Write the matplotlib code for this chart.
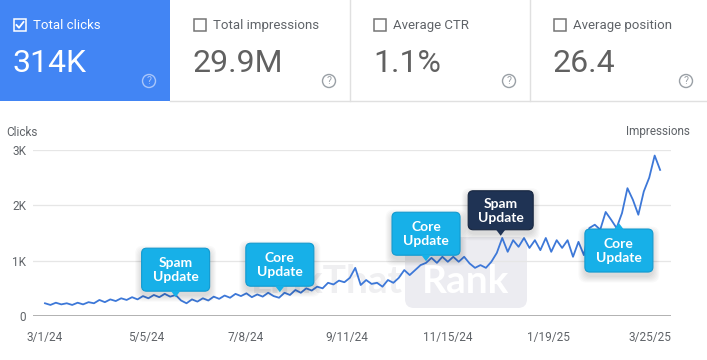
import numpy as np
import pandas as pd
import matplotlib
matplotlib.use("Agg")
import matplotlib.pyplot as plt
import matplotlib.dates as mdates
from matplotlib.patches import FancyBboxPatch, Polygon, Rectangle, Circle

plt.rcParams['font.family'] = ['Roboto', 'DejaVu Sans']

# metric cards
card_titles = ["Total clicks", "Total impressions", "Average CTR", "Average position"]
card_values = ["314K", "29.9M", "1.1%", "26.4"]

# clicks, one value every half week from 3/1/24
clicks = [
    230, 200, 240, 210, 230, 200, 240, 210, 250, 230,
    290, 250, 300, 270, 320, 290, 340, 300, 360, 320,
    380, 340, 400, 350, 380, 280, 230, 300, 260, 320,
    280, 350, 310, 370, 330, 400, 360, 410, 340, 390,
    350, 420, 360, 330, 420, 380, 470, 420, 500, 460,
    530, 500, 600, 570, 640, 610, 690, 870, 560, 650,
    580, 600, 530, 650, 600, 690, 830, 740, 830, 920,
    960, 1050, 960, 1070, 980, 1070, 980, 1070, 950, 870,
    920, 870, 980, 1140, 1410, 1160, 1370, 1250, 1410, 1230,
    1370, 1190, 1410, 1160, 1370, 1230, 1370, 1070, 1340, 1100,
    1590, 1650, 1560, 1880, 1740, 1590, 1860, 2310, 2100, 1830,
    2250, 2500, 2900, 2640,
]
dates = pd.date_range("2024-03-01", periods=len(clicks), freq="84h")

x_labels = ["3/1/24", "5/5/24", "7/8/24", "9/11/24", "11/15/24", "1/19/25", "3/25/25"]
y_ticks = [0, 1000, 2000, 3000]
y_labels = ["0", "1K", "2K", "3K"]

# algorithm update callouts
note_labels = ["Spam\nUpdate", "Core\nUpdate", "Core\nUpdate", "Spam\nUpdate", "Core\nUpdate"]
note_dates = ["2024-05-24", "2024-07-30", "2024-11-01", "2024-12-19", "2025-03-05"]
note_values = [340, 430, 990, 1450, 1680]
note_dark = [False, False, False, True, False]
note_up = [False, False, False, False, True]

GRAY = '#5f6368'

fig = plt.figure(figsize=(7.07, 3.6), dpi=100)
bg = fig.add_axes([0, 0, 1, 1])
bg.set_xlim(0, 707)
bg.set_ylim(360, 0)
bg.axis('off')

# ---- cards ----
card_x = [0, 170, 350, 530]
card_w = [170, 180, 180, 177]
bg.add_patch(Rectangle((0, 0), 170, 101, color='#4285f4', lw=0))
bg.plot([170, 707], [101, 101], color='#e0e0e0', lw=1)
for sx in [349.5, 529.5]:
    bg.plot([sx, sx], [0, 101], color='#e0e0e0', lw=1)

for i in range(4):
    x0 = card_x[i] + 14 if i == 0 else card_x[i] + 24
    active = i == 0
    fg = 'white' if active else GRAY
    bg.add_patch(Rectangle((x0, 19), 12, 12, fill=False,
                           ec='white' if active else '#757575', lw=1.1))
    if active:
        bg.plot([x0 + 2.5, x0 + 5, x0 + 9.5], [25, 27.8, 22], color='white', lw=1.3)
    bg.text(x0 + 19, 29, card_titles[i], color=fg, fontsize=9.5, va='baseline')
    bg.text(x0 - 1, 71.5, card_values[i], color='white' if active else '#616161',
            fontsize=23, va='baseline')
    ix = card_x[i] + card_w[i] - 21
    ic = '#a9c6fa' if active else '#9aa0a6'
    bg.add_patch(Circle((ix, 81), 6.5, fill=False, ec=ic, lw=1))
    bg.text(ix, 81.5, "?", color=ic, fontsize=7.5, ha='center', va='center')

# ---- watermark (faint) ----
bg.add_patch(FancyBboxPatch((405, 237), 122, 71, boxstyle="round,pad=0,rounding_size=9",
                            fc='#ececf1', ec='none'))
bg.text(403, 293, "LinkThat", fontsize=28, fontweight='bold', family='Lato',
        color='#efeff1', ha='right', va='baseline')
bg.text(466, 293, "Rank", fontsize=28, fontweight='bold', family='Lato',
        color='white', ha='center', va='baseline')

# ---- chart ----
ax = fig.add_axes([33 / 707, 1 - 316 / 360, 638 / 707, 166 / 360])
ax.set_zorder(1)
ax.patch.set_alpha(0)

xn = mdates.date2num(dates)
start = mdates.date2num(pd.Timestamp("2024-03-01"))
ax.plot(xn, clicks, color='#3d78d8', lw=1.3, zorder=3, clip_on=False)

tick_x = mdates.date2num(pd.to_datetime(x_labels, format="%m/%d/%y"))
ax.set_xticks(tick_x)
ax.set_xticklabels(x_labels)
ax.set_xlim(start - 7.7, start + 402.5)
ax.set_ylim(0, 3000)
ax.set_yticks(y_ticks)
ax.set_yticklabels(y_labels)
ax.grid(axis='y', color='#e6e6e6', lw=0.9)
ax.axhline(0, color='#9e9e9e', lw=1.1, zorder=2)
for s in ax.spines.values():
    s.set_visible(False)
ax.tick_params(axis='both', length=0, colors=GRAY, labelsize=8.5)
ax.tick_params(axis='x', pad=11)
ax.tick_params(axis='y', pad=5)

bg.text(6, 132, "Clicks", color=GRAY, fontsize=8.5, va='center')
bg.text(690, 132, "Impressions", color=GRAY, fontsize=8.5, va='center', ha='right')

# ---- callouts ----
inv = bg.transData.inverted()
for lab, d, v, dark, up in zip(note_labels, note_dates, note_values, note_dark, note_up):
    tx = mdates.date2num(pd.Timestamp(d))
    px, py = inv.transform(ax.transData.transform((tx, v)))
    w, h = (65, 39) if dark else (68, 43)
    fc = '#1f3354' if dark else '#17b0e8'
    ec = '#17263f' if dark else '#129ad0'
    top = py + 6 if up else py - 6 - h
    left = px - w / 2
    # soft shadow
    for k in range(6):
        s = 2 + 2.2 * k
        ax.add_patch(FancyBboxPatch((left - s / 2, top + 4 - s / 2), w + s, h + s,
                                    boxstyle="round,pad=0,rounding_size=8",
                                    fc='black', ec='none', alpha=0.025,
                                    transform=bg.transData, clip_on=False, zorder=5))
    ax.add_patch(FancyBboxPatch((left, top), w, h, boxstyle="round,pad=0,rounding_size=5",
                                fc=fc, ec=ec, lw=0.8, transform=bg.transData,
                                clip_on=False, zorder=6))
    by = top + 0.6 if up else top + h - 0.6
    ax.add_patch(Polygon([(px - 5, by), (px + 5, by), (px, py)], closed=True,
                         fc=fc, ec='none', transform=bg.transData,
                         clip_on=False, zorder=7))
    ax.text(px, top + h / 2 + 0.5, lab, color='white', fontsize=10, fontweight='bold',
            family='Lato', ha='center', va='center', linespacing=1.15,
            transform=bg.transData, zorder=8)

fig.savefig("out.png", dpi=100)
